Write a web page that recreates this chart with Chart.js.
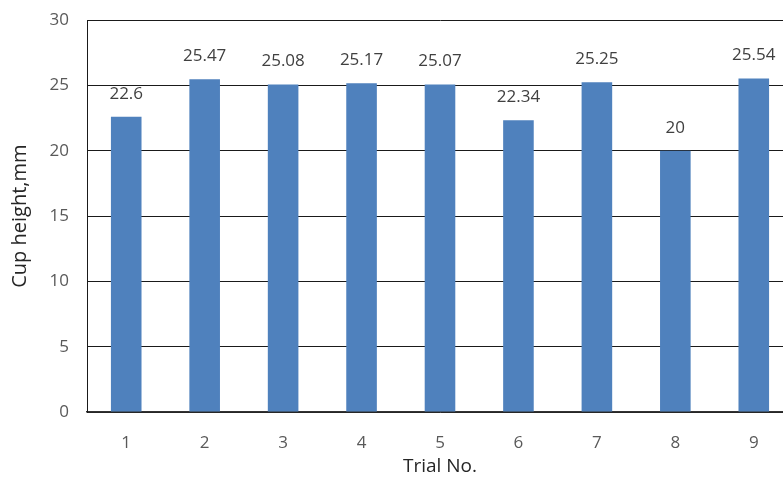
<!DOCTYPE html>
<html>
<head>
<meta charset="utf-8">
<script src="https://cdn.jsdelivr.net/npm/chart.js@4.4.0/dist/chart.umd.min.js"></script>
<style>
  html, body { margin: 0; padding: 0; background: #fff; overflow: hidden; }
  #wrap { width: 796px; height: 502px; position: relative; margin-top: -8px; }
</style>
</head>
<body>
<div id="wrap"><canvas id="c"></canvas></div>
<script>
// Cup height measured for each trial
const trials = ['1', '2', '3', '4', '5', '6', '7', '8', '9'];
const cupHeight = [22.6, 25.47, 25.08, 25.17, 25.07, 22.34, 25.25, 20, 25.54];
const yTicks = [0, 5, 10, 15, 20, 25, 30];

const FONT = "'Open Sans', sans-serif";

// Writes each bar's value just above it
const valueLabels = {
  id: 'valueLabels',
  afterDatasetsDraw(chart) {
    const ctx = chart.ctx;
    const meta = chart.getDatasetMeta(0);
    ctx.save();
    ctx.font = "17px " + FONT;
    ctx.fillStyle = '#404040';
    ctx.textAlign = 'center';
    ctx.textBaseline = 'middle';
    meta.data.forEach((bar, i) => {
      ctx.fillText(String(cupHeight[i]), bar.x, bar.y - 23);
    });
    ctx.restore();
  }
};

new Chart(document.getElementById('c'), {
  type: 'bar',
  data: {
    labels: trials,
    datasets: [{
      data: cupHeight,
      backgroundColor: '#4f81bd',
      barPercentage: 0.39,
      categoryPercentage: 1.0
    }]
  },
  options: {
    responsive: true,
    maintainAspectRatio: false,
    animation: false,
    layout: { padding: { top: 10, right: 3, left: 4, bottom: 12 } },
    plugins: { legend: { display: false }, tooltip: { enabled: false } },
    scales: {
      x: {
        offset: true,
        grid: { display: false, drawTicks: false },
        border: { display: true, color: '#333333', width: 1.5 },
        ticks: { color: '#595959', font: { family: FONT, size: 17 }, padding: 21 },
        title: { display: true, text: 'Trial No.', color: '#262626', font: { family: FONT, size: 19 }, padding: { top: 2 } },
        afterFit(scale) { scale.height = 70; }
      },
      y: {
        min: 0, max: 30,
        afterBuildTicks(scale) { scale.ticks = yTicks.map(v => ({ value: v })); },
        grid: { color: '#1a1a1a', lineWidth: 1, drawTicks: false },
        border: { display: true, color: '#1a1a1a', width: 1 },
        ticks: { color: '#595959', font: { family: FONT, size: 17 }, padding: 18 },
        title: { display: true, text: 'Cup height,mm', color: '#262626', font: { family: FONT, size: 20 }, padding: { bottom: 4 } },
        afterFit(scale) { scale.width = 83; }
      }
    }
  },
  plugins: [valueLabels]
});
</script>
</body>
</html>
